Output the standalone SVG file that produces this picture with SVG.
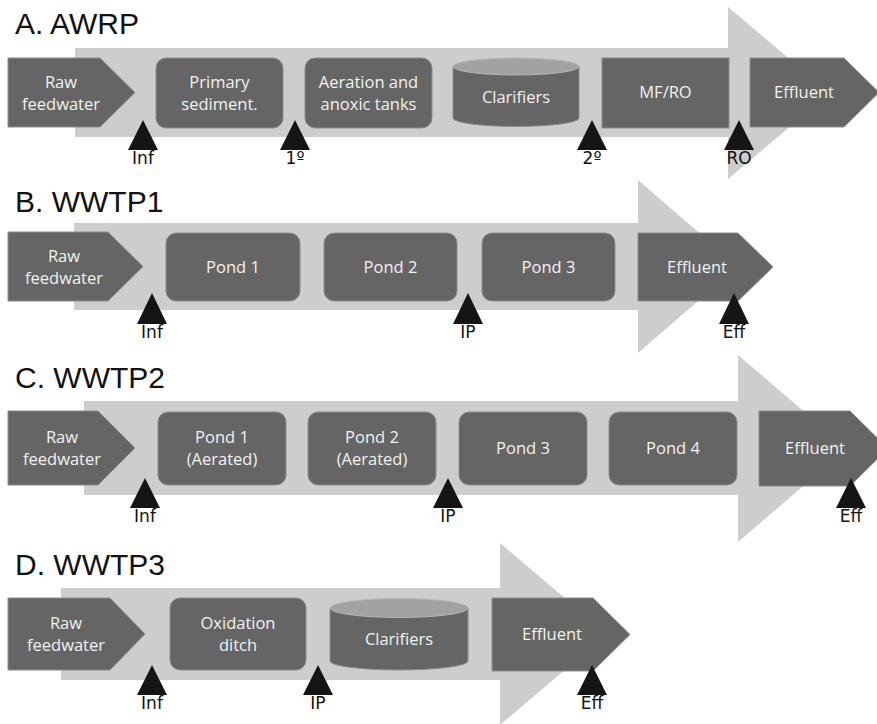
<svg xmlns="http://www.w3.org/2000/svg" width="877" height="724" viewBox="0 0 877 724">
<style>
.title{font-family:"Liberation Sans",Arial,sans-serif;font-size:30px;fill:#111}
.band{fill:#cdcdcd}
.box{fill:#656565;stroke:#8c8c8c;stroke-width:1}
.cyltop{fill:#a2a2a2;stroke:#b5b5b5;stroke-width:1}
.t{font-family:"Open Sans","Noto Sans",sans-serif;font-size:16.5px;fill:#f2f2f2;text-anchor:middle}
.tri{fill:#151515}
.lbl{font-family:"DejaVu Sans",sans-serif;font-size:17px;fill:#111;text-anchor:middle}
</style>
<rect width="877" height="724" fill="#ffffff"/>

<!-- Panel titles -->
<text class="title" x="15" y="34">A. AWRP</text>
<text class="title" x="15" y="212">B. WWTP1</text>
<text class="title" x="15" y="388">C. WWTP2</text>
<text class="title" x="15" y="575">D. WWTP3</text>

<!-- Flow arrows (connectors) -->
<g id="connectors">
  <path class="band" d="M75,48 H728 V7 L830,93 L728,179 V137 H75 Z"/>
  <path class="band" d="M74,223 H638 V180 L738,266.5 L638,353 V310 H74 Z"/>
  <path class="band" d="M84,401 H738 V355 L847,448.5 L738,542 V495 H84 Z"/>
  <path class="band" d="M61,588 H500 V543 L607,634 L500,725 V680 H61 Z"/>
</g>

<!-- Panel A -->
<g id="a-raw"><path class="box" d="M8,58 H100 L135,92.5 L100,127 H8 Z"/>
  <text class="t" x="61" y="88">Raw</text><text class="t" x="61" y="110">feedwater</text></g>
<g id="a-primary"><rect class="box" x="156" y="58" width="127" height="70" rx="10"/>
  <text class="t" x="219.5" y="88">Primary</text><text class="t" x="219.5" y="110">sediment.</text></g>
<g id="a-aeration"><rect class="box" x="305" y="58" width="127" height="70" rx="10"/>
  <text class="t" x="368.5" y="88">Aeration and</text><text class="t" x="368.5" y="110">anoxic tanks</text></g>
<g id="a-clarifiers"><path class="box" d="M453,66.5 V118 A63,8.5 0 0 0 579,118 V66.5 Z"/>
  <ellipse class="cyltop" cx="516" cy="66.5" rx="63" ry="8.5"/>
  <text class="t" x="516" y="103">Clarifiers</text></g>
<g id="a-mfro"><rect class="box" x="602" y="58" width="127" height="70"/>
  <text class="t" x="665.5" y="98">MF/RO</text></g>
<g id="a-effluent"><path class="box" d="M750,58 H844 L879,92.5 L844,127 H750 Z"/>
  <text class="t" x="804" y="98">Effluent</text></g>
<g id="a-inf"><path class="tri" d="M143,120 L158,150 H128 Z"/><text class="lbl" x="143" y="164">Inf</text></g>
<g id="a-1"><path class="tri" d="M295,120 L310,150 H280 Z"/><text class="lbl" x="295" y="164">1º</text></g>
<g id="a-2"><path class="tri" d="M592,120 L607,150 H577 Z"/><text class="lbl" x="592" y="164">2º</text></g>
<g id="a-ro"><path class="tri" d="M739,120 L754,150 H724 Z"/><text class="lbl" x="739" y="164">RO</text></g>

<!-- Panel B -->
<g id="b-raw"><path class="box" d="M8,232 H108 L143,266.5 L108,301 H8 Z"/>
  <text class="t" x="64" y="262">Raw</text><text class="t" x="64" y="284">feedwater</text></g>
<g id="b-pond1"><rect class="box" x="166" y="233" width="134" height="68" rx="10"/>
  <text class="t" x="233" y="272.5">Pond 1</text></g>
<g id="b-pond2"><rect class="box" x="324" y="233" width="133" height="68" rx="10"/>
  <text class="t" x="390.5" y="272.5">Pond 2</text></g>
<g id="b-pond3"><rect class="box" x="482" y="233" width="133" height="68" rx="10"/>
  <text class="t" x="548.5" y="272.5">Pond 3</text></g>
<g id="b-effluent"><path class="box" d="M638,233 H738 L773,267 L738,301 H638 Z"/>
  <text class="t" x="697" y="272.5">Effluent</text></g>
<g id="b-inf"><path class="tri" d="M152,293 L167,324 H137 Z"/><text class="lbl" x="152" y="338">Inf</text></g>
<g id="b-ip"><path class="tri" d="M468,293 L483,324 H453 Z"/><text class="lbl" x="468" y="338">IP</text></g>
<g id="b-eff"><path class="tri" d="M734,293 L749,324 H719 Z"/><text class="lbl" x="734" y="338">Eff</text></g>

<!-- Panel C -->
<g id="c-raw"><path class="box" d="M8,411 H98 L135,448 L98,485 H8 Z"/>
  <text class="t" x="62" y="443">Raw</text><text class="t" x="62" y="465">feedwater</text></g>
<g id="c-pond1"><rect class="box" x="158" y="412" width="128" height="73" rx="10"/>
  <text class="t" x="222" y="443">Pond 1</text><text class="t" x="222" y="465">(Aerated)</text></g>
<g id="c-pond2"><rect class="box" x="308" y="412" width="128" height="73" rx="10"/>
  <text class="t" x="372" y="443">Pond 2</text><text class="t" x="372" y="465">(Aerated)</text></g>
<g id="c-pond3"><rect class="box" x="459" y="412" width="128" height="73" rx="10"/>
  <text class="t" x="523" y="454">Pond 3</text></g>
<g id="c-pond4"><rect class="box" x="609" y="412" width="128" height="73" rx="10"/>
  <text class="t" x="673" y="454">Pond 4</text></g>
<g id="c-effluent"><path class="box" d="M759,411 H850 L888,448.5 L850,486 H759 Z"/>
  <text class="t" x="815" y="454">Effluent</text></g>
<g id="c-inf"><path class="tri" d="M145,478 L160,508 H130 Z"/><text class="lbl" x="145" y="522">Inf</text></g>
<g id="c-ip"><path class="tri" d="M448,478 L463,508 H433 Z"/><text class="lbl" x="448" y="522">IP</text></g>
<g id="c-eff"><path class="tri" d="M851,478 L866,508 H836 Z"/><text class="lbl" x="851" y="522">Eff</text></g>

<!-- Panel D -->
<g id="d-raw"><path class="box" d="M8,598 H110 L145,634 L110,670 H8 Z"/>
  <text class="t" x="66" y="629">Raw</text><text class="t" x="66" y="651">feedwater</text></g>
<g id="d-oxidation"><rect class="box" x="170" y="598" width="136" height="72" rx="10"/>
  <text class="t" x="238" y="629">Oxidation</text><text class="t" x="238" y="651">ditch</text></g>
<g id="d-clarifiers"><path class="box" d="M330,608 V661 A69,9 0 0 0 468,661 V608 Z"/>
  <ellipse class="cyltop" cx="399" cy="608" rx="69" ry="9.5"/>
  <text class="t" x="399" y="645">Clarifiers</text></g>
<g id="d-effluent"><path class="box" d="M492,598 H593 L630,634.5 L593,671 H492 Z"/>
  <text class="t" x="552" y="640">Effluent</text></g>
<g id="d-inf"><path class="tri" d="M152,665 L167,695 H137 Z"/><text class="lbl" x="152" y="709">Inf</text></g>
<g id="d-ip"><path class="tri" d="M318,665 L333,695 H303 Z"/><text class="lbl" x="318" y="709">IP</text></g>
<g id="d-eff"><path class="tri" d="M592,665 L607,695 H577 Z"/><text class="lbl" x="592" y="709">Eff</text></g>
</svg>
